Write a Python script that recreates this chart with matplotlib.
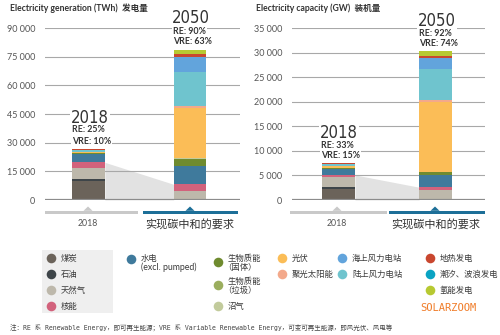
import matplotlib
matplotlib.use("Agg")
import matplotlib.pyplot as plt
import numpy as np

plt.rcParams['font.family'] = ['Lato', 'Noto Sans CJK SC', 'DejaVu Sans']

# ---------------- data ----------------
sources = ['煤炭', '石油', '天然气', '核能', '水电', '生物质能（固体）', '生物质能（垃圾）', '沼气',
           '光伏', '聚光太阳能', '陆上风力电站', '海上风力电站', '地热发电', '潮汐、波浪发电', '氢能发电']
colors = ['#6b635a', '#3e4549', '#bdb8ab', '#d2627c', '#3f7a9c', '#6f8b2f', '#9bae5e', '#c2cb9c',
          '#fbbd57', '#f3a98b', '#6fc4ce', '#62a4dc', '#c9472f', '#0aa3c3', '#b7c932']
fossil_nuclear = 4  # first four series are non-renewable

gen_2018 = [10100, 800, 6100, 2700, 4200, 450, 100, 90, 560, 12, 1200, 70, 90, 1, 0]
gen_2050 = [0, 0, 4900, 3300, 9800, 3400, 300, 300, 26000, 1000, 17800, 8000, 1400, 300, 2100]
cap_2018 = [2300, 400, 2000, 400, 1200, 110, 20, 20, 450, 10, 480, 25, 15, 1, 0]
cap_2050 = [0, 0, 2000, 600, 2500, 500, 70, 70, 14200, 500, 6300, 2200, 300, 100, 900]

gen_ticks = [0, 15000, 30000, 45000, 60000, 75000, 90000]
cap_ticks = [0, 5000, 10000, 15000, 20000, 25000, 30000, 35000]
scenario_labels = ['2018', '实现碳中和的要求']
gen_notes = [('2018', 'RE: 25%', 'VRE: 10%'), ('2050', 'RE: 90%', 'VRE: 63%')]
cap_notes = [('2018', 'RE: 33%', 'VRE: 15%'), ('2050', 'RE: 92%', 'VRE: 74%')]

# ---------------- figure ----------------
W, H = 500, 335
fig = plt.figure(figsize=(5, 3.35), dpi=100)

def px_axes(x0, x1, ytop, ybot):
    return fig.add_axes([x0 / W, (H - ybot) / H, (x1 - x0) / W, (ybot - ytop) / H])

ax1 = px_axes(45, 240, 28, 200)
ax2 = px_axes(292, 485, 28, 200)

def fmt(v):
    return f"{v:,}".replace(",", " ")

def draw_panel(ax, d18, d50, ticks, pos, width):
    top = ticks[-1]
    ax.set_xlim(0, 1)
    ax.set_ylim(0, top)
    for s in ax.spines.values():
        s.set_visible(False)
    ax.set_xticks([])
    ax.set_yticks(ticks)
    ax.set_yticklabels([fmt(t) for t in ticks])
    ax.tick_params(axis='y', length=0, pad=7, labelsize=6.5, labelcolor='#555555')
    for t in ticks[1:]:
        ax.axhline(t, color='#a8a8a8', lw=0.8, zorder=1)
    ax.axhline(0, color='#8c8c8c', lw=1.6, zorder=4)
    # grey transition polygon
    fn18 = sum(d18[:fossil_nuclear])
    fn50 = sum(d50[:fossil_nuclear])
    xa = pos[0] + width / 2
    xb = pos[1] - width / 2
    ax.fill_between([xa, xb], [fn18, fn50], [0, 0], color='#e2e2e2', lw=0, zorder=0.5)
    for i, data in enumerate([d18, d50]):
        bottom = 0
        for v, c in zip(data, colors):
            if v > 0:
                ax.bar(pos[i], v, width=width, bottom=bottom, color=c, lw=0, zorder=3)
            bottom += v

draw_panel(ax1, gen_2018, gen_2050, gen_ticks, [0.223, 0.744], 0.168)
draw_panel(ax2, cap_2018, cap_2050, cap_ticks, [0.241, 0.744], 0.171)

# ---------------- overlay ----------------
ov = fig.add_axes([0, 0, 1, 1])
ov.set_xlim(0, W)
ov.set_ylim(H, 0)
ov.axis('off')
ov.set_zorder(5)

# titles
ov.text(10, 8, 'Electricity generation (TWh)  发电量', fontsize=6.2, fontweight='bold',
        color='#333333', va='center', ha='left')
ov.text(256, 8, 'Electricity capacity (GW)  装机量', fontsize=6.2, fontweight='bold',
        color='#333333', va='center', ha='left')

wb = dict(facecolor='white', edgecolor='none', pad=0.6)

def notes(x, ys, texts):
    big, re, vre = texts
    ov.text(x - 1, ys[0], big, fontsize=12, family=['DejaVu Sans'], fontstretch='condensed',
            color='#333333', ha='left', va='center', bbox=wb)
    ov.text(x, ys[1], re, fontsize=6.4, fontweight='bold', color='#333333', ha='left', va='center', bbox=wb)
    ov.text(x, ys[2], vre, fontsize=6.4, fontweight='bold', color='#333333', ha='left', va='center', bbox=wb)

notes(72, (118, 130, 141), gen_notes[0])
notes(173, (18, 32, 42), gen_notes[1])
notes(321, (133, 146, 155), cap_notes[0])
notes(419, (21, 33, 43), cap_notes[1])

# bottom scenario bars
def scen_bar(x0, x1, xc, color):
    ov.fill([x0, x1, x1, x0], [210.5, 210.5, 214, 214], color=color, lw=0)
    ov.fill([xc - 4.5, xc, xc + 4.5], [210.8, 206.5, 210.8], color=color, lw=0)

scen_bar(45, 138, 88, '#c9c9c9')
scen_bar(143, 238, 190, '#1d6f98')
scen_bar(290, 387, 337, '#c9c9c9')
scen_bar(389, 485, 435, '#1d6f98')

ov.text(88, 224, scenario_labels[0], fontsize=6.3, color='#555555', ha='center', va='center')
ov.text(190, 224, scenario_labels[1], fontsize=8, color='#333333', ha='center', va='center')
ov.text(337, 224, scenario_labels[0], fontsize=6.3, color='#555555', ha='center', va='center')
ov.text(436, 224, scenario_labels[1], fontsize=8, color='#333333', ha='center', va='center')

# legend
ov.fill([42, 113, 113, 42], [250, 250, 313, 313], color='#efefef', lw=0, zorder=0)
leg = [
    (51, 258, 0, ['煤炭']),
    (51, 274, 1, ['石油']),
    (51, 290, 2, ['天然气']),
    (51, 306, 3, ['核能']),
    (131, 259, 4, ['水电', '(excl. pumped)']),
    (218, 262, 5, ['生物质能', '（固体）']),
    (218, 285, 6, ['生物质能', '（垃圾）']),
    (218, 306, 7, ['沼气']),
    (282, 258, 8, ['光伏']),
    (282, 274, 9, ['聚光太阳能']),
    (342, 258, 11, ['海上风力电站']),
    (342, 274, 10, ['陆上风力电站']),
    (430, 258, 12, ['地热发电']),
    (430, 274, 13, ['潮汐、波浪发电']),
    (430, 290, 14, ['氢能发电']),
]
for x, y, ci, lines in leg:
    ov.scatter([x], [y], s=48, color=colors[ci], lw=0, zorder=3)
    fs = 6.0
    if len(lines) == 1:
        ov.text(x + 10, y, lines[0], fontsize=fs, color='#3a3a3a', ha='left', va='center')
    else:
        if lines[1].startswith('('):
            ov.text(x + 10, y - 1, lines[0], fontsize=fs, color='#3a3a3a', ha='left', va='center')
            ov.text(x + 10, y + 8, lines[1], fontsize=6.3, color='#3a3a3a', ha='left', va='center')
        else:
            ov.text(x + 10, y - 4, lines[0], fontsize=fs, color='#3a3a3a', ha='left', va='center')
            ov.text(x + 5, y + 5, lines[1], fontsize=fs, color='#3a3a3a', ha='left', va='center')

ov.text(420, 308, 'SOLARZOOM', fontsize=7.5, color='#f07d2a', ha='left', va='center',
        family=['DejaVu Sans Mono'])

ov.text(10, 327, '注：RE 系 Renewable Energy，即可再生能源；VRE 系 Variable Renewable Energy，可变可再生能源，即风光伏、风电等',
        fontsize=4.7, color='#444444', ha='left', va='center',
        family=['DejaVu Sans Mono', 'Noto Sans CJK SC'])

fig.savefig('out.png', dpi=100)
